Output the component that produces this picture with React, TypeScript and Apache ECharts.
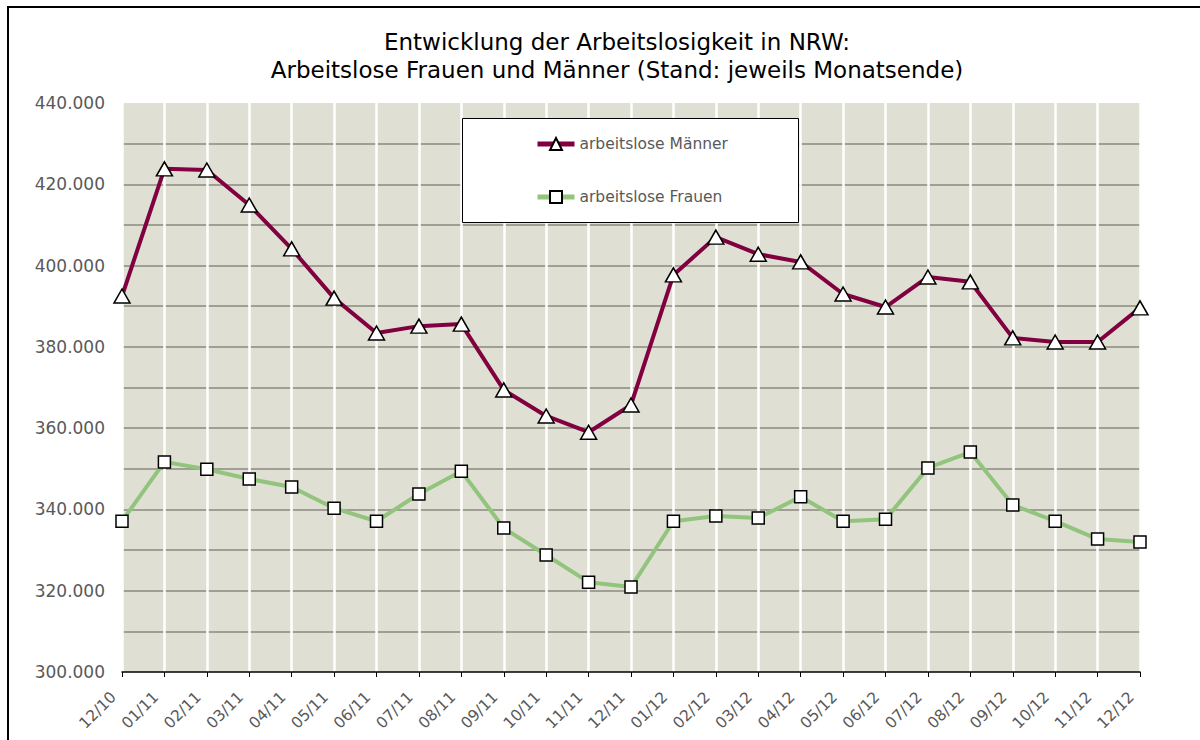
import React, { useEffect, useRef } from 'react';
import * as echarts from 'echarts';

const categories = ['12/10', '01/11', '02/11', '03/11', '04/11', '05/11', '06/11', '07/11', '08/11', '09/11', '10/11', '11/11', '12/11', '01/12', '02/12', '03/12', '04/12', '05/12', '06/12', '07/12', '08/12', '09/12', '10/12', '11/12', '12/12'];

const maenner = [392500, 423800, 423500, 414900, 404100, 392000, 383400, 385100, 385600, 369400, 363000, 359000, 365700, 397700, 407000, 402800, 400900, 393000, 389800, 397200, 396000, 382200, 381200, 381200, 389600];

const frauen = [337100, 351700, 349900, 347500, 345500, 340300, 337100, 343800, 349400, 335400, 328800, 322100, 320900, 337100, 338400, 337900, 343100, 337100, 337600, 350200, 354100, 341100, 337100, 332700, 332000];

const titleLines = ['Entwicklung der Arbeitslosigkeit in NRW:', 'Arbeitslose Frauen und Männer (Stand: jeweils Monatsende)'];
const seriesNames = ['arbeitslose Männer', 'arbeitslose Frauen'];

const FONT = 'DejaVu Sans';

function fmt(v: number): string {
  const s = Math.round(v).toString();
  return s.replace(/\B(?=(\d{3})+(?!\d))/g, '.');
}

export default function App() {
  const ref = useRef<HTMLDivElement>(null);
  useEffect(() => {
    if (!ref.current) return;
    const chart = echarts.init(ref.current, undefined, { renderer: 'svg' });
    chart.setOption({
      animation: false,
      backgroundColor: '#ffffff',
      textStyle: { fontFamily: FONT },
      graphic: [
        {
          type: 'rect',
          shape: { x: 8, y: 7, width: 1240, height: 800 },
          style: { fill: 'none', stroke: '#000', lineWidth: 2 },
          z: 0,
          silent: true,
        },
        {
          type: 'text',
          x: 617,
          y: 42,
          style: { text: titleLines[0], fontFamily: FONT, fontSize: 23, fill: '#000', textAlign: 'center', textVerticalAlign: 'middle' },
          z: 10,
        },
        {
          type: 'text',
          x: 617,
          y: 70,
          style: { text: titleLines[1], fontFamily: FONT, fontSize: 23, fill: '#000', textAlign: 'center', textVerticalAlign: 'middle' },
          z: 10,
        },
        {
          type: 'rect',
          shape: { x: 462.5, y: 118.5, width: 336, height: 104 },
          style: { fill: '#ffffff', stroke: '#000', lineWidth: 1 },
          z: 10,
          silent: true,
        },
      ],
      legend: {
        data: seriesNames,
        orient: 'vertical',
        left: 535,
        top: 136,
        padding: 0,
        itemWidth: 37,
        itemHeight: 15,
        itemGap: 37,
        z: 12,
        lineStyle: { width: 5 },
        textStyle: { fontFamily: FONT, fontSize: 15.5, color: '#595959', lineHeight: 15 },
      },
      grid: {
        left: 122,
        right: 60,
        top: 103,
        bottom: 68,
        show: true,
        backgroundColor: '#dfe0d3',
        borderWidth: 0,
        containLabel: false,
      },
      xAxis: {
        type: 'category',
        data: categories,
        boundaryGap: false,
        axisLine: { show: true, lineStyle: { color: '#000', width: 1.5 } },
        axisTick: { show: true, length: 5, lineStyle: { color: '#000', width: 1 } },
        axisLabel: { rotate: 45, fontFamily: FONT, fontSize: 15.5, color: '#595959', margin: 14, padding: [0, 12, 0, 0], interval: 0 },
        splitLine: { show: true, lineStyle: { color: '#ffffff', width: 2.5 } },
        z: 3,
      },
      yAxis: {
        type: 'value',
        min: 300000,
        max: 440000,
        interval: 10000,
        axisLine: { show: false },
        axisTick: { show: false },
        axisLabel: {
          fontFamily: FONT,
          fontSize: 17,
          color: '#595959',
          margin: 17,
          formatter: (v: number) => (v % 20000 === 0 ? fmt(v) : ''),
        },
        splitLine: { show: true, showMinLine: false, showMaxLine: false, lineStyle: { color: '#8a8a7e', width: 1.5 } },
        z: 2,
      },
      series: [
        {
          name: seriesNames[0],
          type: 'line',
          data: maenner,
          symbol: 'triangle',
          symbolSize: [16, 14],
          showAllSymbol: true,
          lineStyle: { color: '#800040', width: 4 },
          itemStyle: { color: '#ffffff', borderColor: '#000', borderWidth: 1.5 },
          z: 5,
        },
        {
          name: seriesNames[1],
          type: 'line',
          data: frauen,
          symbol: 'rect',
          symbolSize: 12,
          showAllSymbol: true,
          lineStyle: { color: '#93c47d', width: 4 },
          itemStyle: { color: '#ffffff', borderColor: '#000', borderWidth: 1.5 },
          z: 5,
        },
      ],
    });
    return () => chart.dispose();
  }, []);
  return <div ref={ref} style={{ position: 'absolute', left: 0, top: 0, width: 1200, height: 740 }} />;
}
